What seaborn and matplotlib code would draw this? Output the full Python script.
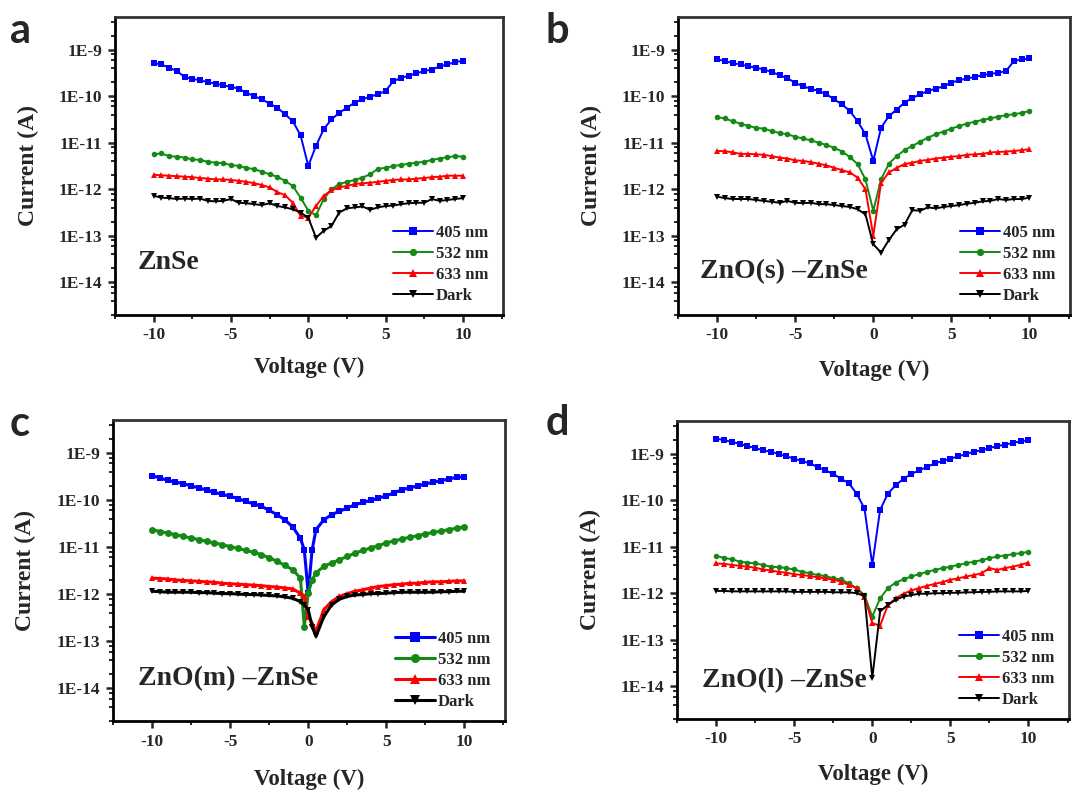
import numpy as np
import pandas as pd
import matplotlib
matplotlib.use('Agg')
import matplotlib.pyplot as plt
import seaborn as sns
from matplotlib.ticker import FixedLocator, FuncFormatter, LogLocator, NullFormatter, MultipleLocator

# Voltage sweeps (V)
volt = [-10, -9.5, -9, -8.5, -8, -7.5, -7, -6.5, -6, -5.5, -5, -4.5, -4, -3.5, -3, -2.5, -2, -1.5, -1, -0.5,
        0, 0.5, 1, 1.5, 2, 2.5, 3, 3.5, 4, 4.5, 5, 5.5, 6, 6.5, 7, 7.5, 8, 8.5, 9, 9.5, 10]
volt_c = [-10, -9.5, -9, -8.5, -8, -7.5, -7, -6.5, -6, -5.5, -5, -4.5, -4, -3.5, -3, -2.5, -2, -1.5, -1, -0.5,
          -0.25, 0, 0.25, 0.5, 1, 1.5, 2, 2.5, 3, 3.5, 4, 4.5, 5, 5.5, 6, 6.5, 7, 7.5, 8, 8.5, 9, 9.5, 10]

# log10 of current (A)
# (a) ZnSe
a_405 = [-9.29, -9.32, -9.39, -9.46, -9.59, -9.63, -9.66, -9.70, -9.73, -9.77, -9.80, -9.84, -9.93, -10.00, -10.07,
         -10.16, -10.25, -10.39, -10.54, -10.84, -11.50, -11.07, -10.71, -10.50, -10.36, -10.25, -10.14, -10.07,
         -10.01, -9.96, -9.89, -9.68, -9.61, -9.56, -9.51, -9.46, -9.43, -9.36, -9.32, -9.27, -9.24]
a_532 = [-11.25, -11.23, -11.29, -11.30, -11.32, -11.36, -11.37, -11.41, -11.43, -11.44, -11.48, -11.50, -11.54,
         -11.57, -11.62, -11.68, -11.73, -11.82, -11.93, -12.18, -12.46, -12.56, -12.21, -12.00, -11.89, -11.84,
         -11.80, -11.75, -11.68, -11.56, -11.54, -11.50, -11.48, -11.45, -11.43, -11.41, -11.37, -11.34, -11.31,
         -11.29, -11.30]
a_633 = [-11.69, -11.70, -11.71, -11.72, -11.73, -11.74, -11.76, -11.77, -11.79, -11.79, -11.80, -11.82, -11.84,
         -11.87, -11.91, -11.96, -12.06, -12.13, -12.29, -12.57, -12.61, -12.36, -12.14, -12.02, -11.96, -11.93,
         -11.89, -11.87, -11.86, -11.84, -11.82, -11.80, -11.79, -11.79, -11.77, -11.76, -11.74, -11.73, -11.71,
         -11.71, -11.71]
a_dark = [-12.14, -12.18, -12.19, -12.21, -12.20, -12.21, -12.20, -12.25, -12.26, -12.25, -12.21, -12.29, -12.30,
          -12.32, -12.34, -12.30, -12.36, -12.39, -12.43, -12.50, -12.61, -13.04, -12.89, -12.79, -12.50, -12.41,
          -12.39, -12.37, -12.44, -12.39, -12.36, -12.35, -12.32, -12.30, -12.29, -12.29, -12.21, -12.25, -12.23,
          -12.21, -12.19]

# (b) ZnO(s)-ZnSe
b_405 = [-9.21, -9.25, -9.29, -9.32, -9.36, -9.39, -9.43, -9.48, -9.55, -9.62, -9.71, -9.79, -9.84, -9.89, -9.96,
         -10.07, -10.18, -10.32, -10.54, -10.82, -11.39, -10.68, -10.43, -10.29, -10.14, -10.04, -9.96, -9.89,
         -9.84, -9.79, -9.71, -9.66, -9.62, -9.59, -9.55, -9.52, -9.50, -9.46, -9.25, -9.21, -9.19]
b_532 = [-10.45, -10.48, -10.54, -10.59, -10.64, -10.68, -10.70, -10.75, -10.79, -10.82, -10.87, -10.91, -10.95,
         -11.00, -11.05, -11.11, -11.19, -11.31, -11.46, -11.79, -12.46, -11.79, -11.45, -11.29, -11.16, -11.07,
         -10.98, -10.89, -10.82, -10.76, -10.70, -10.64, -10.59, -10.55, -10.51, -10.48, -10.44, -10.41, -10.39,
         -10.36, -10.32]
b_633 = [-11.18, -11.18, -11.21, -11.24, -11.24, -11.25, -11.26, -11.29, -11.32, -11.34, -11.38, -11.39, -11.42,
         -11.45, -11.49, -11.54, -11.59, -11.64, -11.75, -12.00, -13.00, -11.86, -11.64, -11.54, -11.46, -11.43,
         -11.39, -11.37, -11.34, -11.32, -11.30, -11.29, -11.26, -11.25, -11.24, -11.21, -11.20, -11.19, -11.18,
         -11.16, -11.14]
b_dark = [-12.16, -12.19, -12.21, -12.21, -12.21, -12.23, -12.25, -12.27, -12.29, -12.25, -12.29, -12.30, -12.29,
          -12.32, -12.32, -12.34, -12.36, -12.38, -12.43, -12.54, -13.18, -13.36, -13.09, -12.86, -12.76, -12.45,
          -12.46, -12.39, -12.41, -12.38, -12.36, -12.34, -12.31, -12.29, -12.26, -12.25, -12.21, -12.23, -12.21,
          -12.21, -12.18]

# (c) ZnO(m)-ZnSe
c_405 = [-9.48, -9.53, -9.58, -9.62, -9.65, -9.70, -9.74, -9.79, -9.84, -9.88, -9.92, -9.97, -10.03, -10.08,
         -10.13, -10.22, -10.31, -10.42, -10.57, -10.81, -11.06, -11.98, -11.06, -10.63, -10.42, -10.31, -10.24,
         -10.17, -10.10, -10.05, -10.01, -9.96, -9.91, -9.85, -9.78, -9.74, -9.70, -9.66, -9.62, -9.59, -9.55,
         -9.52, -9.50]
c_532 = [-10.63, -10.67, -10.70, -10.74, -10.77, -10.81, -10.84, -10.88, -10.91, -10.95, -10.99, -11.03, -11.07,
         -11.11, -11.16, -11.23, -11.30, -11.39, -11.48, -11.66, -12.69, -11.98, -11.70, -11.55, -11.41, -11.34,
         -11.27, -11.20, -11.13, -11.07, -11.02, -10.97, -10.91, -10.87, -10.83, -10.79, -10.76, -10.72, -10.69,
         -10.66, -10.63, -10.60, -10.57]
c_633 = [-11.66, -11.67, -11.68, -11.70, -11.71, -11.72, -11.73, -11.74, -11.75, -11.77, -11.78, -11.79, -11.80,
         -11.81, -11.82, -11.84, -11.85, -11.87, -11.89, -11.98, -12.05, -12.48, -12.62, -12.79, -12.33, -12.16,
         -12.05, -11.99, -11.94, -11.91, -11.87, -11.84, -11.82, -11.80, -11.79, -11.77, -11.77, -11.75, -11.74,
         -11.74, -11.73, -11.72, -11.72]
c_dark = [-11.94, -11.95, -11.96, -11.96, -11.96, -11.96, -11.97, -11.97, -11.98, -11.99, -11.99, -12.00, -12.01,
          -12.01, -12.02, -12.03, -12.04, -12.06, -12.09, -12.16, -12.23, -12.33, -12.69, -12.90, -12.48, -12.23,
          -12.11, -12.05, -12.02, -12.01, -11.99, -11.99, -11.98, -11.97, -11.96, -11.96, -11.96, -11.96, -11.96,
          -11.95, -11.95, -11.94, -11.94]

# (d) ZnO(l)-ZnSe
d_405 = [-8.68, -8.71, -8.75, -8.79, -8.84, -8.88, -8.93, -8.96, -9.01, -9.06, -9.11, -9.16, -9.21, -9.29, -9.36,
         -9.44, -9.54, -9.64, -9.86, -10.18, -11.39, -10.21, -9.86, -9.68, -9.54, -9.44, -9.36, -9.29, -9.21,
         -9.16, -9.11, -9.06, -9.01, -8.96, -8.93, -8.88, -8.84, -8.81, -8.77, -8.74, -8.71]
d_532 = [-11.20, -11.24, -11.27, -11.32, -11.34, -11.36, -11.39, -11.43, -11.44, -11.46, -11.49, -11.54, -11.57,
         -11.61, -11.63, -11.68, -11.70, -11.79, -11.89, -12.04, -12.50, -12.11, -11.89, -11.77, -11.70, -11.64,
         -11.59, -11.54, -11.50, -11.46, -11.43, -11.39, -11.36, -11.32, -11.29, -11.25, -11.21, -11.19, -11.16,
         -11.14, -11.11]
d_633 = [-11.36, -11.37, -11.39, -11.41, -11.43, -11.45, -11.49, -11.51, -11.54, -11.56, -11.59, -11.61, -11.63,
         -11.66, -11.68, -11.71, -11.75, -11.82, -11.89, -12.07, -12.64, -12.70, -12.25, -12.11, -12.01, -11.94,
         -11.89, -11.84, -11.80, -11.76, -11.71, -11.68, -11.64, -11.61, -11.57, -11.46, -11.50, -11.46, -11.43,
         -11.39, -11.34]
d_dark = [-11.95, -11.95, -11.96, -11.96, -11.96, -11.96, -11.96, -11.96, -11.96, -11.96, -11.97, -11.97, -11.97,
          -11.97, -11.97, -11.98, -11.98, -11.98, -12.00, -12.06, -13.82, -12.39, -12.25, -12.14, -12.07, -12.04,
          -12.01, -12.01, -12.00, -12.00, -11.99, -11.99, -11.98, -11.98, -11.97, -11.97, -11.96, -11.96, -11.96,
          -11.96, -11.95]

series_names = ['405 nm', '532 nm', '633 nm', 'Dark']
colors = {'405 nm': '#0000ff', '532 nm': '#138a13', '633 nm': '#ff0000', 'Dark': '#000000'}
markers = {'405 nm': 's', '532 nm': 'o', '633 nm': '^', 'Dark': 'v'}

panels = [
    ('a', 'ZnSe', volt, [a_405, a_532, a_633, a_dark]),
    ('b', 'ZnO(s) \u2013ZnSe', volt, [b_405, b_532, b_633, b_dark]),
    ('c', 'ZnO(m) \u2013ZnSe', volt_c, [c_405, c_532, c_633, c_dark]),
    ('d', 'ZnO(l) \u2013ZnSe', volt, [d_405, d_532, d_633, d_dark]),
]

# axes boxes in figure fractions
boxes = {
    'a': [0.1065, 0.6023, 0.3593, 0.3763],
    'b': [0.6278, 0.6023, 0.3630, 0.3763],
    'c': [0.1046, 0.0896, 0.3630, 0.3800],
    'd': [0.6269, 0.0922, 0.3630, 0.3763],
}
letter_pos = {'a': (0.009, 0.946), 'b': (0.505, 0.946), 'c': (0.009, 0.450), 'd': (0.505, 0.451)}
label_pos = {'a': (0.059, 0.175), 'b': (0.056, 0.144), 'c': (0.064, 0.140), 'd': (0.064, 0.128)}
xlabel_y = {'a': -0.14, 'b': -0.15, 'c': -0.16, 'd': -0.15}

sns.set_style('ticks')
plt.rcParams['font.family'] = ['Liberation Serif', 'DejaVu Serif']
plt.rcParams['font.weight'] = 'bold'
plt.rcParams['axes.unicode_minus'] = False

fig = plt.figure(figsize=(10.8, 7.92), dpi=100)

for letter, name, v, curves in panels:
    ax = fig.add_axes(boxes[letter])
    rows = []
    for sname, logs in zip(series_names, curves):
        for x, ly in zip(v, logs):
            rows.append({'Voltage': x, 'Current': 10 ** ly, 'Light': sname})
    df = pd.DataFrame(rows)
    ms = 5.0 if letter == 'c' else 4.0
    lw = 2.2 if letter == 'c' else 1.4
    sns.lineplot(data=df, x='Voltage', y='Current', hue='Light', style='Light',
                 hue_order=series_names, style_order=series_names,
                 palette=colors, markers=markers, dashes=False,
                 estimator=None, sort=False, markersize=ms, markeredgewidth=0,
                 linewidth=lw, ax=ax)
    ax.set_yscale('log')
    ax.set_xlim(-12.5, 12.6)
    ax.set_ylim(10 ** -14.7, 10 ** -8.3)

    ax.yaxis.set_major_locator(FixedLocator([1e-14, 1e-13, 1e-12, 1e-11, 1e-10, 1e-9]))
    ax.yaxis.set_major_formatter(FuncFormatter(lambda y, p: '1E%d' % round(np.log10(y))))
    ax.yaxis.set_minor_locator(LogLocator(base=10, subs=(2, 4, 6, 8)))
    ax.yaxis.set_minor_formatter(NullFormatter())
    ax.xaxis.set_major_locator(FixedLocator([-10, -5, 0, 5, 10]))
    ax.xaxis.set_minor_locator(MultipleLocator(2.5))
    ax.tick_params(axis='both', which='major', direction='out', length=5, width=1.8,
                   labelsize=12.5, pad=4, top=False, right=False)
    ax.tick_params(axis='both', which='minor', direction='out', length=3, width=1.4,
                   top=False, right=False)
    for lab in ax.get_xticklabels() + ax.get_yticklabels():
        lab.set_fontweight('bold')

    for side in ['left', 'bottom', 'top', 'right']:
        ax.spines[side].set_visible(True)
        ax.spines[side].set_linewidth(2.0)
        ax.spines[side].set_color('black' if side in ('left', 'bottom') else '#333333')

    ax.set_xlabel('Voltage (V)', fontsize=16.5, fontweight='bold')
    ax.set_ylabel('Current (A)', fontsize=17, fontweight='bold')
    ax.xaxis.set_label_coords(0.5, xlabel_y[letter])
    ax.yaxis.set_label_coords(-0.195, 0.5)

    ax.text(label_pos[letter][0], label_pos[letter][1], name, transform=ax.transAxes,
            fontsize=20, fontweight='bold', va='center', ha='left')

    handles, labels = ax.get_legend_handles_labels()
    ax.legend(handles, labels, loc='lower right', bbox_to_anchor=(0.99, 0.0), frameon=False,
              prop={'family': 'Liberation Serif', 'weight': 'bold', 'size': 12},
              handlelength=2.4, handletextpad=0.15, labelspacing=0.3, borderaxespad=0.25,
              markerscale=1.3)

    fig.text(letter_pos[letter][0], letter_pos[letter][1], letter, fontsize=30,
             fontweight='bold', family='Lato', va='baseline', ha='left')

fig.savefig('out.png', dpi=100, facecolor='white')
